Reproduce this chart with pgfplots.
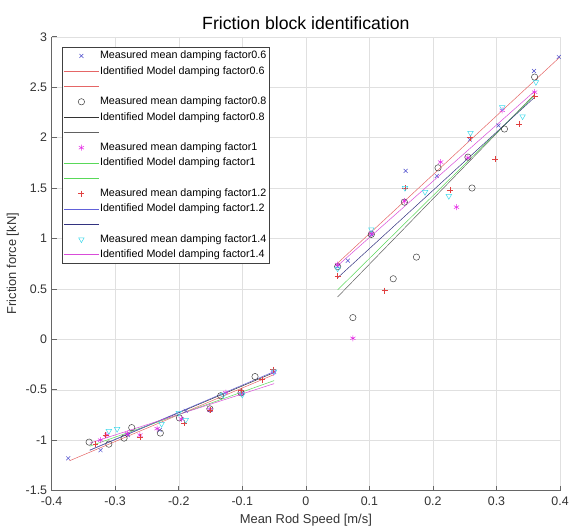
\documentclass[border=0pt]{standalone}
\usepackage{fontspec}
\setmainfont{Liberation Sans}
\usepackage{pgfplots}
\pgfplotsset{compat=1.18}

\definecolor{mkBlue}{rgb}{0.30,0.30,0.80}
\definecolor{mkBlack}{rgb}{0.25,0.25,0.25}
\definecolor{mkMag}{rgb}{0.90,0.15,0.90}
\definecolor{mkRed}{rgb}{0.88,0.25,0.25}
\definecolor{mkCyan}{rgb}{0.25,0.85,0.92}
\definecolor{lnRed}{rgb}{0.90,0.40,0.40}
\definecolor{lnBlack}{rgb}{0.20,0.20,0.20}
\definecolor{lnGray}{rgb}{0.38,0.38,0.38}
\definecolor{lnGreen}{rgb}{0.35,0.85,0.35}
\definecolor{lnBlue}{rgb}{0.38,0.38,0.85}
\definecolor{lnNavy}{rgb}{0.20,0.20,0.50}
\definecolor{lnMag}{rgb}{0.85,0.30,0.85}
\definecolor{axisGray}{rgb}{0.40,0.40,0.40}

\begin{document}
\begin{tikzpicture}
\begin{axis}[
  scale only axis,
  width=512pt, height=457pt,
  xmin=-0.4, xmax=0.4, ymin=-1.5, ymax=3,
  xtick={-0.4,-0.3,-0.2,-0.1,0,0.1,0.2,0.3,0.4},
  ytick={-1.5,-1,-0.5,0,0.5,1,1.5,2,2.5,3},
  /pgf/number format/assume math mode=true,
  grid=major,
  major grid style={black!12, line width=0.4pt},
  axis x line*=bottom, axis y line*=left,
  axis line style={axisGray, line width=0.5pt},
  tick style={axisGray, line width=0.5pt},
  tick align=inside, major tick length=5pt,
  ticklabel style={font=\fontsize{12.5}{14}\selectfont, text=black!80},
  xticklabel style={yshift=-3pt},
  yticklabel style={xshift=-1pt},
  title={Friction block identification},
  title style={font=\fontsize{17.8}{20}\selectfont, yshift=-2pt},
  xlabel={Mean Rod Speed [m/s]},
  ylabel={Friction force [kN]},
  label style={font=\fontsize{13}{15}\selectfont, text=black!80},
  xlabel style={yshift=-2pt},
  legend cell align=left,
  legend style={at={(0.0195,0.978)}, anchor=north west,
    draw=black!75, line width=0.5pt, fill=white,
    font=\fontsize{10.8}{13}\selectfont,
    nodes={inner sep=1pt, text height=8pt, text depth=2pt},
    row sep=3.4pt, inner xsep=2pt, inner ysep=3pt},
  legend image code/.code={
    \draw[mark repeat=2, mark phase=2] plot coordinates {(0pt,0pt) (17.5pt,0pt) (35pt,0pt)};},
]
\coordinate (sw) at (rel axis cs:0,0);
\coordinate (ne) at (rel axis cs:1,1);

% damping factor 0.6
\addplot[only marks, mark=x, mkBlue, mark size=2.8pt, line width=0.5pt] coordinates {
  (-0.374,-1.18) (-0.323,-1.10) (-0.280,-0.95) (-0.230,-0.90) (-0.189,-0.71)
  (-0.150,-0.70) (-0.100,-0.53) (-0.050,-0.32)
  (0.050,0.72) (0.066,0.78) (0.103,1.04) (0.157,1.67) (0.206,1.62)
  (0.258,1.98) (0.303,2.12) (0.359,2.66) (0.398,2.80)};
\addlegendentry{Measured mean damping factor0.6}
\addplot[lnRed, line width=0.5pt] coordinates {(-0.372,-1.205) (-0.050,-0.35)};
\addlegendentry{Identified Model damping factor0.6}
\addplot[lnRed, line width=0.5pt] coordinates {(0.050,0.755) (0.400,2.80)};
\addlegendentry{\mbox{}}

% damping factor 0.8
\addplot[only marks, mark=o, mkBlack, mark size=3.2pt, line width=0.5pt] coordinates {
  (-0.341,-1.02) (-0.310,-1.04) (-0.286,-0.98) (-0.274,-0.876) (-0.229,-0.93)
  (-0.199,-0.78) (-0.151,-0.69) (-0.134,-0.56) (-0.102,-0.53) (-0.080,-0.37)
  (0.050,0.72) (0.074,0.215) (0.103,1.04) (0.1375,0.60) (0.155,1.36)
  (0.174,0.815) (0.208,1.70) (0.255,1.806) (0.2615,1.50) (0.3125,2.085) (0.360,2.60)};
\addlegendentry{Measured mean damping factor0.8}
\addplot[lnBlack, line width=0.5pt] coordinates {(-0.340,-1.10) (-0.050,-0.33)};
\addlegendentry{Identified Model damping factor0.8}
\addplot[lnGray, line width=0.5pt] coordinates {(0.050,0.42) (0.360,2.43)};
\addlegendentry{\mbox{}}

% damping factor 1
\addplot[only marks, mark=asterisk, mkMag, mark size=3pt, line width=0.5pt] coordinates {
  (-0.323,-1.00) (-0.313,-0.95) (-0.281,-0.935) (-0.261,-0.95) (-0.234,-0.886)
  (-0.196,-0.79) (-0.151,-0.70) (-0.126,-0.53) (-0.102,-0.54) (-0.051,-0.33)
  (0.050,0.74) (0.074,0.01) (0.103,1.05) (0.155,1.37) (0.212,1.757)
  (0.237,1.31) (0.255,1.80) (0.309,2.27) (0.360,2.45)};
\addlegendentry{Measured mean damping factor1}
\addplot[lnGreen, line width=0.5pt] coordinates {(-0.340,-1.06) (-0.050,-0.41)};
\addlegendentry{Identified Model damping factor1}
\addplot[lnGreen, line width=0.5pt] coordinates {(0.050,0.49) (0.360,2.42)};
\addlegendentry{\mbox{}}

% damping factor 1.2
\addplot[only marks, mark=+, mkRed, mark size=3pt, line width=0.5pt] coordinates {
  (-0.331,-1.04) (-0.315,-0.95) (-0.261,-0.97) (-0.191,-0.83) (-0.150,-0.70)
  (-0.102,-0.51) (-0.069,-0.40) (-0.051,-0.30)
  (0.050,0.625) (0.124,0.483) (0.156,1.50) (0.2266,1.48) (0.258,2.00)
  (0.298,1.79) (0.335,2.13) (0.360,2.41)};
\addlegendentry{Measured mean damping factor1.2}
\addplot[lnBlue, line width=0.5pt] coordinates {(-0.340,-1.10) (-0.050,-0.32)};
\addlegendentry{Identified Model damping factor1.2}
\addplot[lnNavy, line width=0.5pt] coordinates {(0.050,0.61) (0.360,2.40)};
\addlegendentry{\mbox{}}

% damping factor 1.4
\addplot[only marks, mark=triangle, mark options={rotate=180}, mkCyan, mark size=3.2pt, line width=0.5pt] coordinates {
  (-0.310,-0.91) (-0.297,-0.89) (-0.227,-0.84) (-0.200,-0.73) (-0.189,-0.80)
  (-0.130,-0.55) (-0.100,-0.55) (-0.050,-0.32)
  (0.050,0.70) (0.103,1.09) (0.156,1.50) (0.1875,1.46) (0.225,1.42)
  (0.259,2.045) (0.309,2.30) (0.341,2.21) (0.362,2.55)};
\addlegendentry{Measured mean damping factor1.4}
\addplot[lnMag, line width=0.5pt] coordinates {(-0.340,-1.03) (-0.050,-0.44)};
\addlegendentry{Identified Model damping factor1.4}
\addplot[lnMag, line width=0.5pt, forget plot] coordinates {(0.050,0.73) (0.360,2.46)};
\end{axis}
\path ([shift={(-52pt,-41pt)}]sw) rectangle ([shift={(8pt,37pt)}]ne);
\end{tikzpicture}
\end{document}
